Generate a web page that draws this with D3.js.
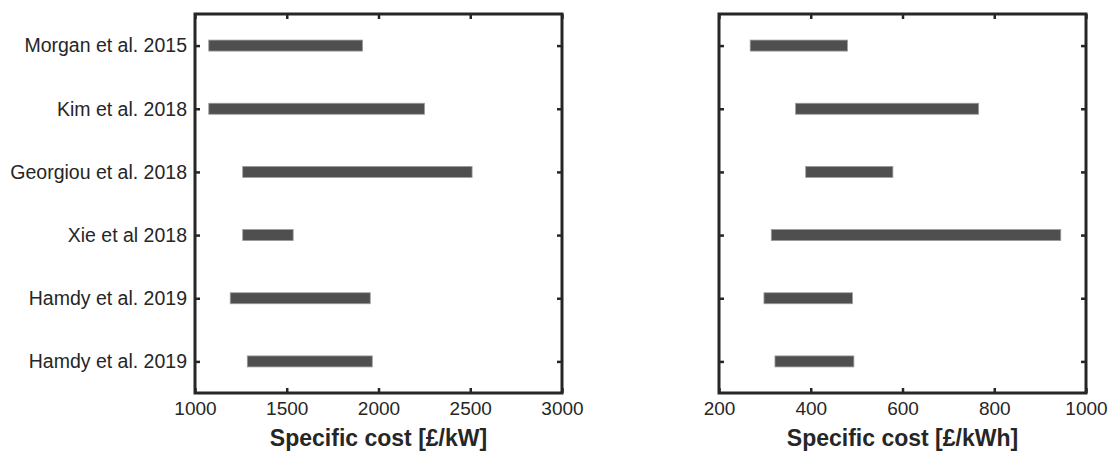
<!DOCTYPE html>
<html>
<head>
<meta charset="utf-8">
<script src="https://cdn.jsdelivr.net/npm/d3@7"></script>
<style>
  html, body { margin: 0; padding: 0; background: #fff; }
  svg { display: block; }
  text { font-family: "Liberation Sans", Arial, sans-serif; fill: #262626; }
</style>
</head>
<body>
<svg id="chart" width="1109" height="453"></svg>
<script>
// Studies (top to bottom) and their reported cost ranges
const studies = [
  "Morgan et al. 2015",
  "Kim et al. 2018",
  "Georgiou et al. 2018",
  "Xie et al 2018",
  "Hamdy et al. 2019",
  "Hamdy et al. 2019"
];
// Power-specific cost range [£/kW]
const powerMin = [1075, 1075, 1260, 1260, 1192, 1285];
const powerMax = [1913, 2251, 2510, 1535, 1955, 1966];
// Energy-specific cost range [£/kWh]
const energyMin = [268, 367, 389, 314, 298, 322];
const energyMax = [480, 766, 579, 945, 491, 494];

const powerTicks = [1000, 1500, 2000, 2500, 3000];
const energyTicks = [200, 400, 600, 800, 1000];

const svg = d3.select("#chart");
const ink = "#262626";
const plotTop = 14, plotBottom = 393;
const barH = 11;

// one slot per study (indices keep duplicate names apart)
const y = d3.scalePoint().domain(d3.range(studies.length)).range([plotTop, plotBottom]).padding(0.5);

function panel(opts) {
  const { x0, x1, domain, ticks, lo, hi, title, showLabels } = opts;
  const x = d3.scaleLinear().domain(domain).range([x0, x1]);
  const g = svg.append("g");

  // bars
  g.selectAll("rect.bar")
    .data(studies.map((s, i) => ({ i, a: lo[i], b: hi[i] })))
    .join("rect")
    .attr("class", "bar")
    .attr("x", d => x(d.a))
    .attr("y", d => y(d.i) - barH / 2)
    .attr("width", d => x(d.b) - x(d.a))
    .attr("height", barH)
    .attr("fill", "#4f4f4f")
    .attr("stroke", "#9c9c9c")
    .attr("stroke-width", 0.8);

  const style = sel => {
    sel.select(".domain").remove();
    sel.selectAll(".tick line").attr("stroke", ink).attr("stroke-width", 2.5);
  };
  const font = size => sel => sel.selectAll("text").attr("font-size", size).attr("fill", ink)
    .style("font-family", "'Liberation Sans', Arial, sans-serif");

  // bottom axis with labels
  g.append("g")
    .attr("transform", `translate(0,${plotBottom})`)
    .call(d3.axisBottom(x).tickValues(ticks).tickFormat(d3.format("d"))
      .tickSizeInner(-5).tickSizeOuter(0).tickPadding(9))
    .call(style)
    .call(font(19));

  // top axis (ticks only)
  g.append("g")
    .attr("transform", `translate(0,${plotTop})`)
    .call(d3.axisTop(x).tickValues(ticks).tickSizeInner(-5).tickSizeOuter(0).tickFormat(""))
    .call(style);

  // left axis
  g.append("g")
    .attr("transform", `translate(${x0},0)`)
    .call(d3.axisLeft(y).tickSizeInner(-5).tickSizeOuter(0).tickPadding(8)
      .tickFormat(showLabels ? (i => studies[i]) : ""))
    .call(style)
    .call(font(19.5));

  // right axis (ticks only)
  g.append("g")
    .attr("transform", `translate(${x1},0)`)
    .call(d3.axisRight(y).tickSizeInner(-5).tickSizeOuter(0).tickFormat(""))
    .call(style);

  // frame
  g.append("path")
    .attr("d", `M${x0},${plotTop}H${x1}V${plotBottom}H${x0}Z`)
    .attr("fill", "none")
    .attr("stroke", ink)
    .attr("stroke-width", 3);

  // axis title
  g.append("text")
    .attr("x", (x0 + x1) / 2)
    .attr("y", 446)
    .attr("text-anchor", "middle")
    .attr("font-size", 23)
    .attr("font-weight", "bold")
    .text(title);
}

panel({
  x0: 195, x1: 562, domain: [1000, 3000], ticks: powerTicks,
  lo: powerMin, hi: powerMax, title: "Specific cost [£/kW]", showLabels: true
});
panel({
  x0: 719, x1: 1086, domain: [200, 1000], ticks: energyTicks,
  lo: energyMin, hi: energyMax, title: "Specific cost [£/kWh]", showLabels: false
});
</script>
</body>
</html>
